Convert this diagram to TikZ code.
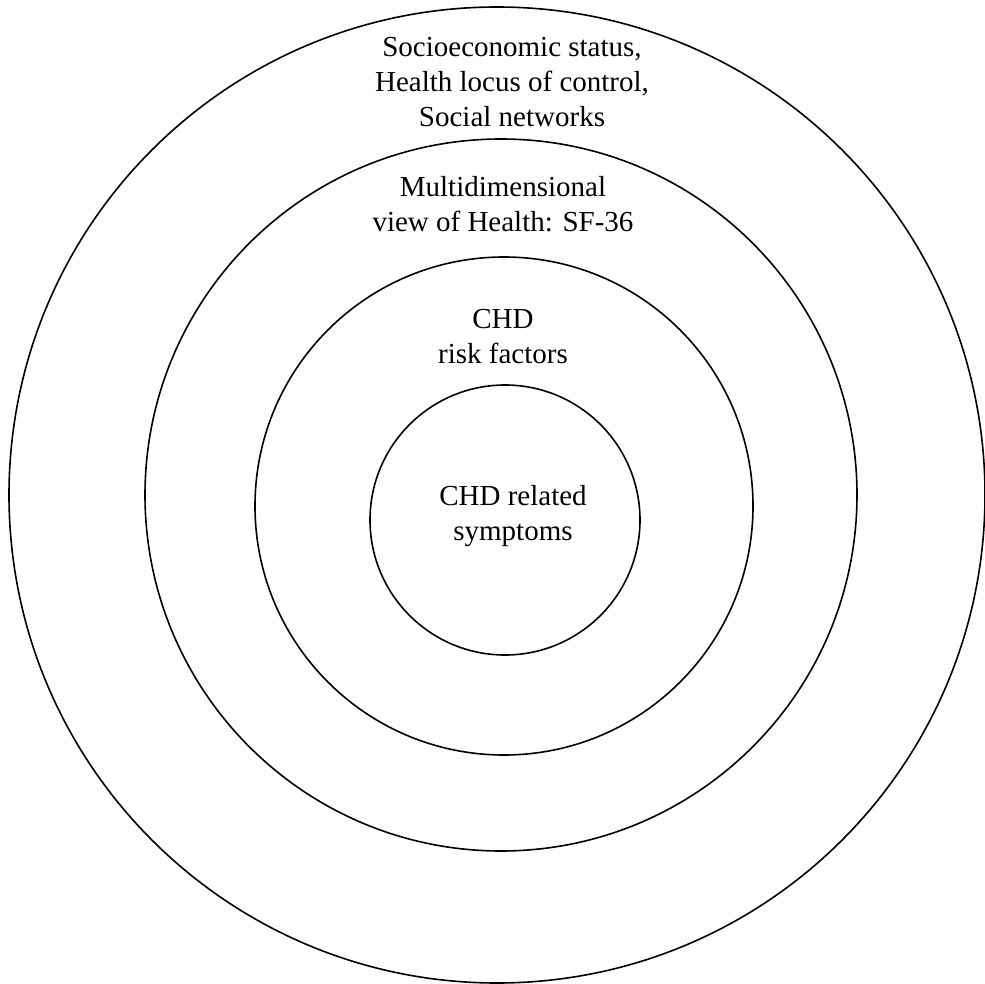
\documentclass[tikz,border=0pt]{standalone}
\usepackage{fontspec}
\setmainfont{Liberation Serif}
\tikzset{ringtext/.style={font=\fontsize{29}{35}\selectfont, align=center, anchor=base, inner sep=0pt}}

\begin{document}
\begin{tikzpicture}[x=1pt, y=-1pt, line width=1.6pt]
		%%%%% START %%%%%
		
		\useasboundingbox (0, 0) rectangle (985, 984);
		
		\draw (497, 495) circle [radius=488pt];
		\draw (501, 495) circle [radius=356pt];
		\draw (504, 506) circle [radius=249pt];
		\draw (505, 520) circle [radius=135pt];
		
		\node[ringtext] (social) at (512, 127) {Socioeconomic status,\\Health locus of control,\\Social networks};
		\node[ringtext] (health) at (503, 232) {Multidimensional\\view of Health: SF-36};
		\node[ringtext] (risk) at (503, 363) {CHD\\risk factors};
		\node[ringtext] (symptoms) at (513, 540) {CHD related\\symptoms};
		
		%%%%% END %%%%%
	\end{tikzpicture}
\end{document}
